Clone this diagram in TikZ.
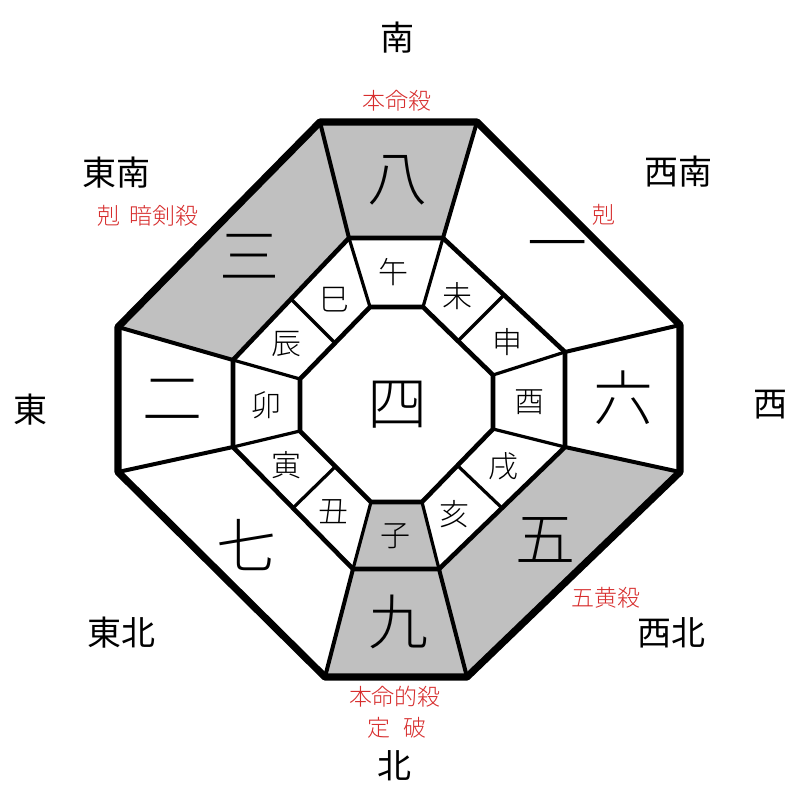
\documentclass[tikz,border=0pt]{standalone}
\usepackage{fontspec}
\newfontfamily\cjk{Noto Sans CJK JP Light}
\newfontfamily\cjkreg{Noto Sans CJK JP}
\usepackage{tikz}
\usetikzlibrary{calc}

\definecolor{kyusei}{RGB}{192,192,192}
\definecolor{akaji}{RGB}{215,45,45}

\tikzset{
  hoi/.style={font=\cjkreg\fontsize{17}{17}\selectfont},
  kyu/.style={font=\cjk\fontsize{30}{30}\selectfont},
  shi/.style={font=\cjk\fontsize{15}{15}\selectfont},
  satsu/.style={font=\cjk\fontsize{11.5}{11.5}\selectfont, text=akaji},
}

\begin{document}
\begin{tikzpicture}[x=0.5pt,y=-0.5pt]
                \useasboundingbox[fill=white] (0,0) rectangle (800,800);
                % outer octagon
                \coordinate (ot1) at (320,122);
                \coordinate (ot2) at (477,122);
                \coordinate (ot3) at (680,325);
                \coordinate (ot4) at (680,472);
                \coordinate (ot5) at (467,677);
                \coordinate (ot6) at (325,677);
                \coordinate (ot7) at (118,472);
                \coordinate (ot8) at (118,327);
                % middle ring
                \coordinate (md1) at (349,238);
                \coordinate (md2) at (443,238);
                \coordinate (md3) at (565,352);
                \coordinate (md4) at (565,447);
                \coordinate (md5) at (439,569);
                \coordinate (md6) at (353,569);
                \coordinate (md7) at (233,447);
                \coordinate (md8) at (233,360);
                % inner octagon
                \coordinate (in1) at (370,307);
                \coordinate (in2) at (423,307);
                \coordinate (in3) at (493,375);
                \coordinate (in4) at (493,429);
                \coordinate (in5) at (422,502);
                \coordinate (in6) at (371,502);
                \coordinate (in7) at (300,431);
                \coordinate (in8) at (300,379);
                \fill[kyusei] (ot1) -- (ot2) -- (md2) -- (md1) -- cycle;
                \fill[kyusei] (ot8) -- (ot1) -- (md1) -- (md8) -- cycle;
                \fill[kyusei] (ot4) -- (ot5) -- (md5) -- (md4) -- cycle;
                \fill[kyusei] (ot5) -- (ot6) -- (md6) -- (md5) -- cycle;
                \fill[kyusei] (md6) -- (md5) -- (in5) -- (in6) -- cycle;
                \foreach \k in {1,...,8}
                  \draw[line width=2pt] (ot\k) -- (md\k);
                \draw[line width=1.6pt] (md1) -- (in1) (md2) -- (in2)
                  (md3) -- (in3) (md4) -- (in4) (md5) -- (in5)
                  (md6) -- (in6) (md7) -- (in7) (md8) -- (in8);
                \draw[line width=1.6pt] ($(md2)!0.5!(md3)$) -- ($(in2)!0.5!(in3)$)
                  ($(md4)!0.5!(md5)$) -- ($(in4)!0.5!(in5)$)
                  ($(md6)!0.5!(md7)$) -- ($(in6)!0.5!(in7)$)
                  ($(md8)!0.5!(md1)$) -- ($(in8)!0.5!(in1)$);
                \draw[line width=2.3pt, line join=round] (md1) -- (md2) -- (md3) -- (md4)
                  -- (md5) -- (md6) -- (md7) -- (md8) -- cycle;
                \draw[line width=2.3pt, line join=round] (in1) -- (in2) -- (in3) -- (in4)
                  -- (in5) -- (in6) -- (in7) -- (in8) -- cycle;
                \draw[line width=3.6pt, line join=round] (ot1) -- (ot2) -- (ot3) -- (ot4)
                  -- (ot5) -- (ot6) -- (ot7) -- (ot8) -- cycle;
                % stars
                \node[kyu] (hachi) at (397,180) {八};
                \node[kyu] (ichi) at (557,253) {一};
                \node[kyu] (roku) at (623,398) {六};
                \node[kyu] (go) at (545,540) {五};
                \node[kyu] (kyu9) at (398,622) {九};
                \node[kyu] (nana) at (246,545) {七};
                \node[kyu] (ni) at (172,400) {二};
                \node[kyu] (san) at (250,256) {三};
                \node[kyu] (yon) at (397,405) {四};
                % twelve branches
                \node[shi] (uma) at (394,272) {午};
                \node[shi] (hitsuji) at (457,296) {未};
                \node[shi] (saru) at (507,342) {申};
                \node[shi] (tori) at (529,402) {酉};
                \node[shi] (inu) at (503,466) {戌};
                \node[shi] (i) at (454,514) {亥};
                \node[shi] (ne) at (395,536) {子};
                \node[shi] (ushi) at (333,512) {丑};
                \node[shi] (tora) at (286,465) {寅};
                \node[shi] (u) at (266,405) {卯};
                \node[shi] (tatsu) at (286,344) {辰};
                \node[shi] (mi) at (334,300) {巳};
                % directions
                \node[hoi] (minami) at (397,38) {南};
                \node[hoi] (nansei) at (678,172) {西南};
                \node[hoi] (nishi) at (770,405) {西};
                \node[hoi] (hokusei) at (671,633) {西北};
                \node[hoi] (kita) at (394,766) {北};
                \node[hoi] (tohoku) at (122,633) {東北};
                \node[hoi] (higashi) at (30,410) {東};
                \node[hoi] (tonan) at (117,173) {東南};
                % red notes
                \node[satsu] (honmei) at (397,101) {本命殺};
                \node[satsu] (koku1) at (148,216) {剋\hspace{0.4em}暗剣殺};
                \node[satsu] (koku2) at (604,215) {剋};
                \node[satsu] (gooh) at (606,598) {五黄殺};
                \node[satsu] (teki) at (395,697) {本命的殺};
                \node[satsu] (tei) at (397,728) {定\hspace{0.6em}破};
            \end{tikzpicture}
\end{document}
